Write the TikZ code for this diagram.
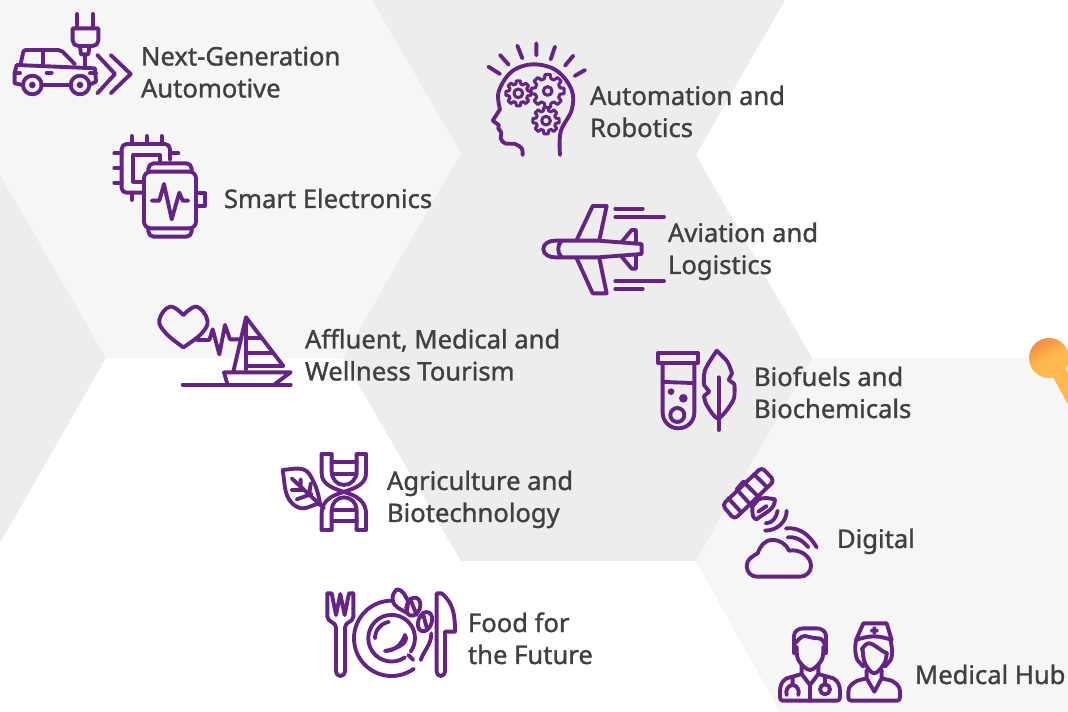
\documentclass[tikz,border=0pt]{standalone}
\usepackage{fontspec}
\setmainfont{Noto Sans}[RawFeature={embolden=1.2}]
\definecolor{hexdark}{HTML}{EDEDED}
\definecolor{hexlight}{HTML}{F6F6F6}
\definecolor{iconpurple}{HTML}{642385}
\definecolor{labelgrey}{HTML}{404040}
\definecolor{pinA}{HTML}{F28E42}
\definecolor{pinB}{HTML}{FFB84D}
\tikzset{
  iconline/.style={draw=iconpurple,line width=2.9pt,line cap=round,line join=round},
  thinline/.style={draw=iconpurple,line width=2.3pt,line cap=round,line join=round},
  lab/.style={anchor=base west,inner sep=0pt,outer sep=0pt,text=labelgrey,align=left,font=\fontsize{19.2}{24}\selectfont},
  cropA/.style={shift={#1},x=0.25pt,y=-0.25pt},
}
\usetikzlibrary{calc}
\newcommand{\icongear}[3]{%
  \foreach \a in {0,45,...,315}{%
    \draw[thinline] ($(#1,#2)+(\a-15:{#3*0.76} and {#3*0.76})$) -- ($(#1,#2)+(\a-9:{#3} and {#3})$) -- ($(#1,#2)+(\a+9:{#3} and {#3})$) -- ($(#1,#2)+(\a+15:{#3*0.76} and {#3*0.76})$) -- ($(#1,#2)+(\a+30:{#3*0.76} and {#3*0.76})$);
  }%
  \draw[thinline] (#1,#2) circle (13);
}
\begin{document}
\begin{tikzpicture}[x=0.75pt,y=-0.75pt]
\useasboundingbox (0,0) rectangle (1068,712);
\fill[white] (0,0) rectangle (1068,712);
% background hexagons
\fill[hexlight] (0,0) -- (372,0) -- (461,153) -- (343,358) -- (106,358) -- (0,175) -- cycle;
\fill[hexdark] (0,175) -- (106,358) -- (0,543) -- cycle;
\fill[hexdark] (372,0) -- (785,0) -- (696,155) -- (812,358) -- (696,561) -- (461,561) -- (343,358) -- (461,153) -- cycle;
\fill[hexlight] (812,358) -- (1068,358) -- (1068,712) -- (780,712) -- (696,561) -- cycle;
% orange pin
\begin{scope}
\clip (0,0) rectangle (1068,712);
\fill[pinB] (1053,377) -- (1071,410) -- (1090,400) -- (1065,368) -- cycle;
\shade[top color=pinA,bottom color=pinB,middle color=pinB,shading angle=30] (1049,358) circle (20);
\end{scope}
% car
\begin{scope}[cropA={(0,0)}]
\draw[iconline] (232,42) -- (232,85) (278,42) -- (278,85);
\draw[iconline] (218,85) -- (295,85) -- (295,122) to[out=-90,in=0] (278,138) -- (235,138) to[out=180,in=-90] (218,122) -- cycle;
\draw[iconline] (240,140) -- (243,163) -- (265,163) -- (268,140) (255,165) -- (255,198);
\draw[iconline] (62,192) -- (70,155) to[out=80,in=180] (80,150) -- (175,150) -- (188,155) -- (225,193);
\draw[iconline] (130,155) -- (130,192);
\draw[iconline] (50,195) -- (285,205) -- (288,245) -- (272,253);
\draw[iconline] (50,195) -- (44,218) -- (44,250) -- (68,255);
\draw[iconline] (44,218) -- (60,218) (270,220) -- (288,220);
\draw[iconline] (124,255) -- (213,255) (140,218) -- (155,218);
\draw[iconline] (97,255) circle (28) (240,255) circle (28);
\fill[iconpurple] (97,255) circle (10) (240,255) circle (10);
\draw[iconline] (292,165) -- (345,222) -- (292,280) (332,165) -- (392,222) -- (332,280);
\end{scope}
% chip and watch
\begin{scope}[cropA={(0,0)}]
\draw[iconline] (430,578) -- (380,578) to[out=180,in=-90] (365,565) -- (365,447) to[out=90,in=180] (380,432) -- (495,432) to[out=0,in=90] (510,447) -- (510,480);
\draw[iconline] (395,408) -- (395,432) (440,408) -- (440,432) (485,408) -- (485,432);
\draw[iconline] (343,460) -- (365,460) (343,505) -- (365,505) (343,548) -- (365,548) (510,460) -- (535,460) (395,578) -- (395,600);
\draw[iconline] (480,490) -- (480,465) -- (400,465) -- (400,545) -- (430,545);
\draw[iconline,rounded corners=5pt] (432,515) rectangle (588,685);
\draw[iconline,rounded corners=4pt] (445,515) -- (445,490) -- (575,490) -- (575,515);
\draw[iconline,rounded corners=4pt] (445,685) -- (445,710) -- (575,710) -- (575,685);
\draw[iconline] (588,580) -- (615,580) -- (615,618) -- (588,618);
\draw[iconline] (455,602) -- (478,602) -- (492,552) -- (515,658) -- (538,578) -- (548,602) -- (565,602);
\end{scope}
% head
\begin{scope}[cropA={(470,30)}]
\draw[iconline] plot[smooth,tension=0.55] coordinates {(158,375) (155,355) (135,342) (105,340) (92,325) (94,308) (85,296)};
\draw[iconline] (85,296) -- (86,285) -- (68,272) -- (90,238);
\draw[iconline] plot[smooth,tension=0.6] coordinates {(90,238) (86,185) (125,125) (190,103) (260,122) (305,180) (305,240) (272,305) (270,375)};
\draw[iconline] (55,110) -- (90,132) (90,75) -- (116,104) (142,47) -- (157,85) (199,40) -- (199,76) (255,50) -- (242,88) (310,77) -- (285,107) (345,120) -- (314,138);
\icongear{145}{190}{38}
\icongear{233}{183}{50}
\icongear{228}{272}{40}
\end{scope}
% plane
\begin{scope}[cropA={(470,30)}]
\draw[iconline] (515,642) -- (385,632) -- (255,632) to[out=180,in=90] (220,657) to[out=-90,in=180] (255,682) -- (385,682) -- (515,672) -- cycle;
\draw[iconline] (275,632) to[out=-135,in=135] (275,682);
\draw[iconline] (320,630) -- (368,528) -- (410,528) -- (388,630);
\draw[iconline] (320,685) -- (368,790) -- (410,790) -- (388,685);
\draw[iconline] (455,636) -- (485,600) -- (498,600) -- (498,640);
\draw[iconline] (455,680) -- (485,716) -- (498,716) -- (498,675);
\draw[iconline] (436,536) -- (518,536) (436,561) -- (582,561) (436,754) -- (582,754) (436,777) -- (518,777);
\end{scope}
% heart and boat
\begin{scope}[cropA={(150,290)}]
\draw[iconline] plot[smooth,tension=0.7] coordinates {(100,172) (48,130) (28,90) (60,50) (100,75)};
\draw[iconline] plot[smooth,tension=0.7] coordinates {(100,75) (140,50) (172,90) (155,130) (100,172)};
\draw[iconline] (140,150) -- (178,150) -- (188,118) -- (208,193) -- (225,105) -- (240,148) -- (270,148);
\draw[iconline] (288,240) -- (288,82) -- (400,228) -- (288,228);
\draw[iconline] (288,82) -- (250,245);
\draw[iconline] (288,145) -- (335,145) (288,188) -- (368,188);
\draw[iconline] (232,282) -- (222,247) -- (422,247) -- (375,282);
\draw[iconline] (98,284) -- (422,284);
\end{scope}
% leaf and dna
\begin{scope}[cropA={(150,290)}]
\draw[iconline] (398,540) to[out=5,in=120] (480,555) to[out=-60,in=100] (510,640) to[out=190,in=-30] (440,650) to[out=150,in=-80] (398,540) -- cycle;
\draw[iconline] (425,565) -- (522,655) (452,568) -- (452,598) (425,600) -- (462,600) (440,628) -- (485,612) (482,580) -- (478,612);
\draw[iconline] (515,492) -- (545,492) (620,492) -- (648,492) (515,720) -- (545,720) (620,720) -- (648,720);
\draw[iconline] (515,492) -- (515,550) to[out=-90,in=160] (565,600) -- (600,612) to[out=-20,in=90] (648,670) -- (648,720);
\draw[iconline] (648,492) -- (648,550) to[out=-90,in=20] (598,600) -- (563,612) to[out=200,in=90] (515,670) -- (515,720);
\draw[iconline] (545,492) -- (545,545) to[out=-90,in=180] (582,585) to[out=0,in=-90] (620,545) -- (620,492);
\draw[iconline] (545,720) -- (545,660) to[out=90,in=180] (582,622) to[out=0,in=90] (620,660) -- (620,720);
\draw[iconline] (545,515) -- (620,515) (545,552) -- (620,552) (547,660) -- (618,660) (545,692) -- (620,692);
\end{scope}
% tube and feather
\begin{scope}[cropA={(640,330)}]
\draw[iconline] (55,68) rectangle (173,98);
\draw[iconline] (68,98) -- (68,248) to[out=-90,in=180] (115,295) to[out=0,in=-90] (163,248) -- (163,98);
\draw[iconline] (68,155) to[out=-5,in=175] (163,160);
\fill[iconpurple] (93,185) circle (10) (130,205) circle (13);
\draw[iconline] (112,255) circle (21);
\draw[iconline] plot[smooth,tension=0.5] coordinates {(230,62) (262,95) (276,130)};
\draw[iconline] (276,130) -- (266,150) -- (283,162);
\draw[iconline] plot[smooth,tension=0.5] coordinates {(283,162) (280,210) (235,265) (200,225) (192,198)};
\draw[iconline] (192,198) -- (208,185) -- (192,165);
\draw[iconline] plot[smooth,tension=0.5] coordinates {(192,165) (195,120) (230,62)};
\draw[iconline] (236,142) -- (236,300);
\end{scope}
% satellite and cloud
\begin{scope}[cropA={(715,460)}]
\draw[iconline,rounded corners=3pt] (22,135) -- (140,22) -- (178,62) -- (58,178) -- cycle;
\draw[iconline] (40,115) -- (78,156) (118,44) -- (157,82);
\draw[iconline] (65,88) -- (85,65) -- (135,115) (65,88) -- (112,140);
\draw[iconline] (112,140) -- (130,118) to[out=20,in=170] (180,118) to[out=-90,in=40] (125,178) to[out=170,in=-90] (112,150) -- cycle;
\draw[iconline] (130,155) -- (155,138);
\draw[iconline] (152,190) to[out=0,in=-100] (188,152);
\draw[iconline] (150,212) to[out=0,in=-90] (215,152);
\draw[iconline] (125,350) to[out=180,in=-90] (95,318) to[out=90,in=-150] (128,280) to[out=70,in=180] (172,240) to[out=0,in=115] (222,272) to[out=10,in=90] (288,318) to[out=-90,in=0] (255,350) -- cycle;
\draw[iconline] (218,232) to[out=5,in=130] (280,262);
\draw[iconline] (213,205) to[out=5,in=120] (305,262);
\end{scope}
% food
\begin{scope}[cropA={(310,570)}]
\draw[iconline] (52,70) -- (52,140) to[out=-90,in=90] (78,172) -- (78,305) to[out=-90,in=180] (91,318) to[out=0,in=-90] (105,305) -- (105,172) to[out=90,in=-90] (130,140) -- (130,70);
\draw[iconline] (52,70) -- (65,70) -- (78,135) -- (91,72) -- (104,135) -- (117,70) -- (130,70);
\draw[iconline] (245,92) arc[start angle=-90,end angle=-306,radius=113];
\draw[iconline] (364,190) to[out=-90,in=70] (332,270);
\draw[iconline] (285,262) arc[start angle=55,end angle=395,radius=70];
\draw[iconline] (195,205) arc[start angle=180,end angle=260,radius=50];
\draw[iconline] (225,243) to[out=0,in=-110] (285,195) to[out=-60,in=10] (225,243);
\draw[iconline] (295,255) -- (310,270);
\draw[iconline] (260,58) to[out=-130,in=100] (248,90) to[out=-80,in=150] (290,128) -- (295,95) to[out=120,in=0] (260,58);
\draw[iconline,rotate around={-20:(310,110)}] (310,110) ellipse (20 and 28);
\draw[iconline,rotate around={-20:(345,155)}] (345,155) ellipse (20 and 30);
\draw[iconline] (300,85) -- (320,135) (338,128) -- (352,180);
\draw[iconline] (380,70) -- (395,70) to[out=-40,in=90] (435,185) -- (405,185) -- (405,305) to[out=-90,in=0] (392,318) to[out=180,in=-90] (380,305) -- cycle;
\end{scope}
% doctor and nurse
\begin{scope}[cropA={(770,610)}]
\draw[iconline] (72,130) -- (72,78) to[out=90,in=180] (100,55) -- (140,55) to[out=0,in=90] (168,78) -- (168,130);
\draw[iconline] (75,100) to[out=40,in=180] (105,78) to[out=-10,in=180] (145,85) to[out=0,in=110] (165,105);
\draw[iconline] plot[smooth,tension=0.6] coordinates {(80,110) (85,150) (120,180) (155,150) (160,110)};
\draw[iconline] (95,165) -- (95,192) -- (120,225) -- (145,192) -- (145,165);
\draw[iconline] (95,192) -- (50,205) to[out=-150,in=90] (30,245) -- (30,262) to[out=-90,in=180] (38,272) -- (202,272) to[out=0,in=-90] (210,262) -- (210,245) to[out=90,in=-30] (190,205) -- (145,192);
\draw[iconline] (120,225) -- (120,272);
\draw[iconline] (68,205) -- (68,222) (50,255) to[out=110,in=180] (68,225) to[out=0,in=70] (85,255);
\draw[iconline] (165,200) -- (165,222);
\draw[iconline] (165,238) circle (15);
\draw[iconline] (280,40) -- (350,40) -- (365,90) to[out=160,in=20] (258,90) -- cycle;
\fill[iconpurple] (308,50) rectangle (318,74) (301,57) rectangle (325,67);
\draw[iconline] (258,92) to[out=-100,in=110] (262,150) -- (280,170);
\draw[iconline] (362,92) to[out=-80,in=70] (362,150) -- (345,170);
\draw[iconline] plot[smooth,tension=0.6] coordinates {(278,118) (285,160) (313,190) (343,160) (350,130)};
\draw[iconline] (275,118) to[out=50,in=170] (300,100) to[out=-20,in=160] (352,130);
\draw[iconline] (290,180) -- (290,205) -- (313,245) -- (335,205) -- (335,180);
\draw[iconline] (290,205) -- (262,212) to[out=-150,in=90] (235,245) -- (235,262) to[out=-90,in=180] (243,272) -- (382,272) to[out=0,in=-90] (390,262) -- (390,245) to[out=90,in=-30] (365,212) -- (335,205);
\end{scope}
% labels
\node[lab] (nga) at (141,97.5) {Next-Generation\\Automotive};
\node[lab] (sme) at (224,208) {Smart Electronics};
\node[lab] (aur) at (590,137) {Automation and\\Robotics};
\node[lab] (avl) at (668,274) {Aviation and\\Logistics};
\node[lab] (amw) at (305,380.5) {Affluent, Medical and\\Wellness Tourism};
\node[lab] (bio) at (754,418) {Biofuels and\\Biochemicals};
\node[lab] (agb) at (387,522) {Agriculture and\\Biotechnology};
\node[lab] (dig) at (837,548) {Digital};
\node[lab] (fff) at (468,664) {Food for\\the Future};
\node[lab] (mhb) at (915,684) {Medical Hub};
\end{tikzpicture}
\end{document}
